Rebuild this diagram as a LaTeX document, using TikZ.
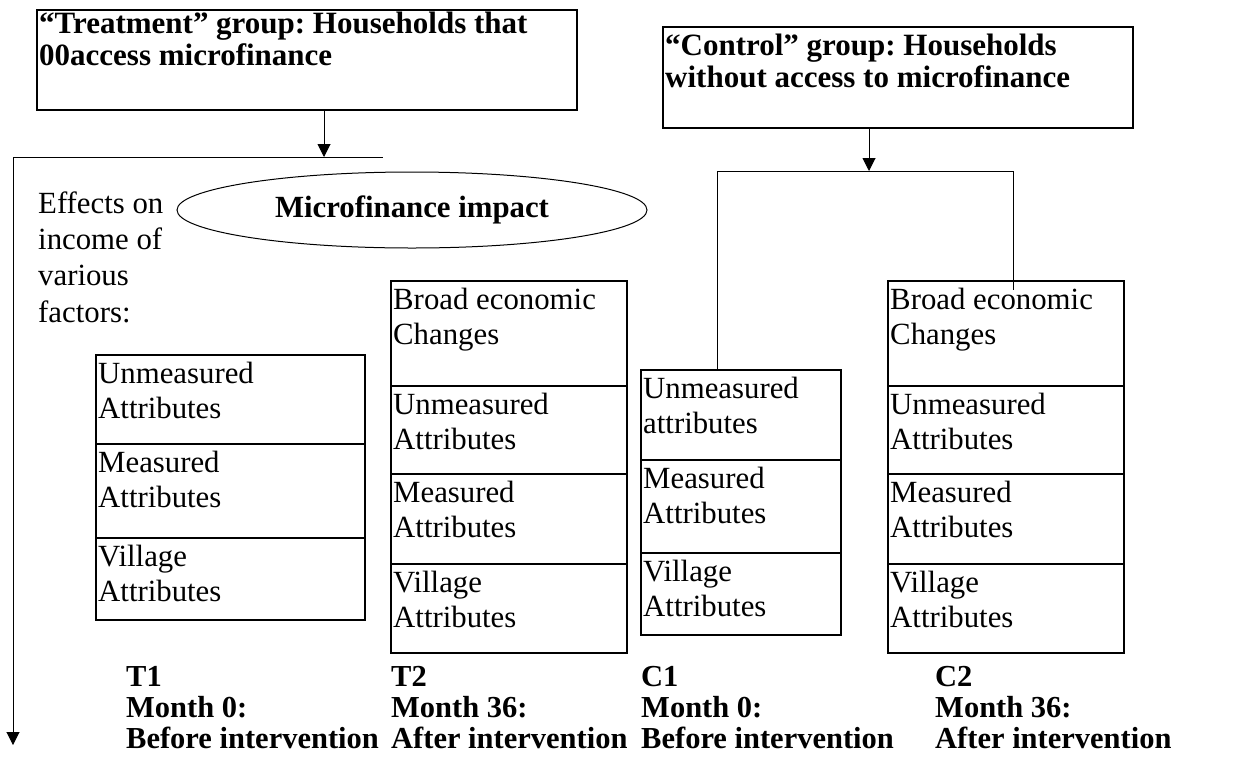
\documentclass[tikz,border=0pt]{standalone}
\usepackage{fontspec}
\setmainfont{Liberation Serif}
\usetikzlibrary{shapes.geometric, arrows.meta}
\frenchspacing
\newcommand{\bodyfs}{\fontsize{30.8pt}{35.5pt}\selectfont}
\newcommand{\efffs}{\fontsize{30.8pt}{36.3pt}\selectfont}
\newcommand{\titlefs}{\fontsize{31pt}{32.5pt}\selectfont\bfseries}
\newcommand{\labfs}{\fontsize{30.5pt}{31pt}\selectfont\bfseries}
\begin{document}
\begin{tikzpicture}[x=1pt,y=-1pt,
  box/.style={draw, line width=1.3pt, anchor=north west, inner sep=0pt, outer sep=0pt},
  btxt/.style={anchor=north west, inner sep=0pt, align=left, font=\bodyfs},
  ttxt/.style={anchor=north west, inner sep=0pt, align=left, font=\titlefs},
  ltxt/.style={anchor=north west, inner sep=0pt, align=left, font=\labfs},
  conn/.style={line width=1pt},
  arr/.style={conn, -{Triangle[length=13pt,width=13pt]}}]
\useasboundingbox (0,0) rectangle (1258,761);

% group boxes
\node[box, minimum width=540pt, minimum height=100pt] (treat) at (37,10) {};
\node[ttxt] (treattxt) at ([xshift=2pt]treat.north west) {\rule{0pt}{23pt}“Treatment” group: Households that\\00access microfinance};
\node[box, minimum width=470pt, minimum height=101pt] (control) at (663,27) {};
\node[ttxt] (controltxt) at ([xshift=2pt]control.north west) {\rule{0pt}{28pt}“Control” group: Households\\without access to microfinance};

% ellipse
\node[ellipse, draw, line width=1pt, minimum width=470pt, minimum height=76pt, inner sep=0pt, font={\bodyfs\bfseries}] (impact) at (412,210) {Microfinance impact\hspace{28pt}};

\node[btxt, font=\efffs] (effects) at (38,185) {\rule{0pt}{28pt}Effects on\\income of\\various\\factors:};

% T1 column
\node[box, minimum width=269pt, minimum height=89pt] (t1a) at (96,355) {};
\node[box, minimum width=269pt, minimum height=94pt] (t1b) at (96,444) {};
\node[box, minimum width=269pt, minimum height=82pt] (t1c) at (96,538) {};
\node[btxt] (t1at) at ([xshift=2pt]t1a.north west) {\rule{0pt}{28pt}Unmeasured\\Attributes};
\node[btxt] (t1bt) at ([xshift=2pt]t1b.north west) {\rule{0pt}{28pt}Measured\\Attributes};
\node[btxt] (t1ct) at ([xshift=2pt]t1c.north west) {\rule{0pt}{28pt}Village\\Attributes};

% T2 column
\node[box, minimum width=236pt, minimum height=105pt] (t2a) at (391,281) {};
\node[box, minimum width=236pt, minimum height=88pt] (t2b) at (391,386) {};
\node[box, minimum width=236pt, minimum height=90pt] (t2c) at (391,474) {};
\node[box, minimum width=236pt, minimum height=89pt] (t2d) at (391,564) {};
\node[btxt] (t2at) at ([xshift=2pt]t2a.north west) {\rule{0pt}{28pt}Broad economic\\Changes};
\node[btxt] (t2bt) at ([xshift=2pt]t2b.north west) {\rule{0pt}{28pt}Unmeasured\\Attributes};
\node[btxt] (t2ct) at ([xshift=2pt]t2c.north west) {\rule{0pt}{28pt}Measured\\Attributes};
\node[btxt] (t2dt) at ([xshift=2pt]t2d.north west) {\rule{0pt}{28pt}Village\\Attributes};

% C1 column
\node[box, minimum width=200pt, minimum height=90pt] (c1a) at (641,370) {};
\node[box, minimum width=200pt, minimum height=93pt] (c1b) at (641,460) {};
\node[box, minimum width=200pt, minimum height=82pt] (c1c) at (641,553) {};
\node[btxt] (c1at) at ([xshift=2pt]c1a.north west) {\rule{0pt}{28pt}Unmeasured\\attributes};
\node[btxt] (c1bt) at ([xshift=2pt]c1b.north west) {\rule{0pt}{28pt}Measured\\Attributes};
\node[btxt] (c1ct) at ([xshift=2pt]c1c.north west) {\rule{0pt}{28pt}Village\\Attributes};

% C2 column
\node[box, minimum width=236pt, minimum height=105pt] (c2a) at (888,281) {};
\node[box, minimum width=236pt, minimum height=88pt] (c2b) at (888,386) {};
\node[box, minimum width=236pt, minimum height=90pt] (c2c) at (888,474) {};
\node[box, minimum width=236pt, minimum height=89pt] (c2d) at (888,564) {};
\node[btxt] (c2at) at ([xshift=2pt]c2a.north west) {\rule{0pt}{28pt}Broad economic\\Changes};
\node[btxt] (c2bt) at ([xshift=2pt]c2b.north west) {\rule{0pt}{28pt}Unmeasured\\Attributes};
\node[btxt] (c2ct) at ([xshift=2pt]c2c.north west) {\rule{0pt}{28pt}Measured\\Attributes};
\node[btxt] (c2dt) at ([xshift=2pt]c2d.north west) {\rule{0pt}{28pt}Village\\Attributes};

% bottom labels
\node[ltxt] (lt1) at (126,662) {\rule{0pt}{24pt}T1\\Month 0:\\Before intervention};
\node[ltxt] (lt2) at (391,662) {\rule{0pt}{24pt}T2\\Month 36:\\After intervention};
\node[ltxt] (lc1) at (641,662) {\rule{0pt}{24pt}C1\\Month 0:\\Before intervention};
\node[ltxt] (lc2) at (935,662) {\rule{0pt}{24pt}C2\\Month 36:\\After intervention};

% treatment connectors
\coordinate (hl) at (13,157);
\coordinate (hr) at (383,157);
\coordinate (ha) at (324,157);
\coordinate (bot) at (13,745);
\draw[conn] (hl) -- (hr);
\draw[arr] (ha |- treat.south) -- (ha);
\draw[arr] (hl) -- (bot);

% control connectors
\coordinate (ca) at (869,171);
\coordinate (cl) at (717,171);
\coordinate (cr) at (1013,171);
\coordinate (cend) at (1013,290);
\draw[arr] (ca |- control.south) -- (ca);
\draw[conn] (cl |- c1a.north) -- (cl) -- (cr) -- (cend);
\end{tikzpicture}
\end{document}
